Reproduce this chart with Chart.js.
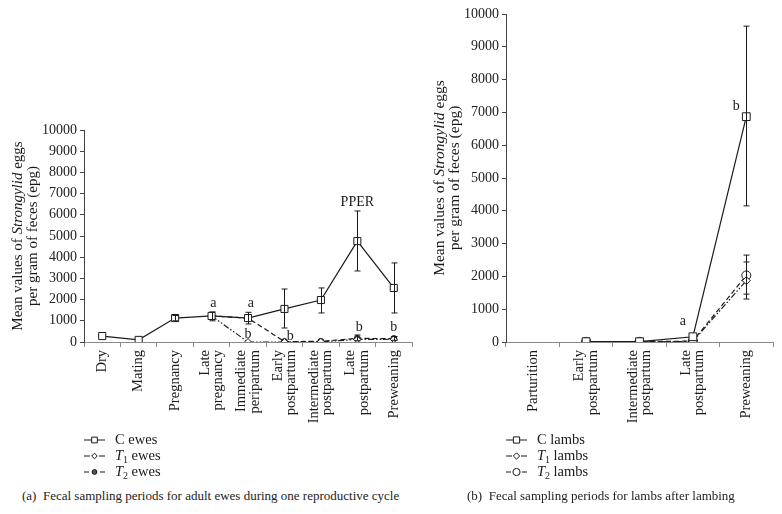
<!DOCTYPE html>
<html>
<head>
<meta charset="utf-8">
<script src="https://cdn.jsdelivr.net/npm/chart.js@4.4.1/dist/chart.umd.min.js"></script>
<style>
  body { margin: 0; background: #fff; width: 782px; height: 514px; position: relative; overflow: hidden; }
  canvas { position: absolute; }
  .cap { position: absolute; top: 488px; font: 13px "Liberation Serif", serif; color: #222; white-space: nowrap; }
</style>
</head>
<body>
<canvas id="ewes" width="420" height="375" style="left:0;top:110px"></canvas>
<canvas id="lambs" width="382" height="485" style="left:400px;top:0"></canvas>
<div class="cap" style="left:22px">(a)&nbsp; Fecal sampling periods for adult ewes during one reproductive cycle</div>
<div class="cap" style="left:467px">(b)&nbsp; Fecal sampling periods for lambs after lambing</div>

<script>
// ---- data: adult ewes (a) ----
const ewePeriods = [['Dry'], ['Mating'], ['Pregnancy'], ['Late', 'pregnancy'], ['Immediate', 'peripartum'],
  ['Early', 'postpartum'], ['Intermediate', 'postpartum'], ['Late', 'postpartum'], ['Preweaning']];
const cEwes = [280, 100, 1130, 1230, 1130, 1560, 1980, 4760, 2550];
const cEwesLow = [null, null, 1000, 1000, 850, 660, 1370, 3350, 1370];
const cEwesHigh = [null, null, 1250, 1420, 1400, 2500, 2550, 6180, 3730];
const t1Ewes = [null, null, null, 1230, 0, 0, 10, 120, 130];
const t2Ewes = [null, null, null, 1230, 1130, 20, 30, 170, 160];
const t2EwesLow = [null, null, null, null, null, null, null, 60, 80];
const t2EwesHigh = [null, null, null, null, null, null, null, 330, 260];
const eweNoteText = ['a', 'a', 'b', 'b', 'b', 'b', 'PPER'];
const eweNoteCat = [3.05, 4.08, 4.0, 5.16, 7.05, 8.0, 7.0];
const eweNoteVal = [1840, 1840, 380, 280, 700, 700, 6600];

// ---- data: lambs (b) ----
const lambPeriods = [['Parturition'], ['Early', 'postpartum'], ['Intermediate', 'postpartum'], ['Late', 'postpartum'], ['Preweaning']];
const cLambs = [null, 10, 10, 160, 6870];
const cLambsLow = [null, null, null, null, 4150];
const cLambsHigh = [null, null, null, null, 9630];
const t1Lambs = [null, 0, 0, 20, 1870];
const t1LambsLow = [null, null, null, null, 1310];
const t1LambsHigh = [null, null, null, null, 2440];
const t2Lambs = [null, 5, 5, 30, 2030];
const t2LambsLow = [null, null, null, null, 1460];
const t2LambsHigh = [null, null, null, null, 2650];
const lambNoteText = ['a', 'b'];
const lambNoteCat = [2.81, 3.81];
const lambNoteVal = [640, 7200];

const serif = '"Liberation Serif", "Times New Roman", serif';
const ink = '#1a1a1a';

// custom drawing: error bars, notes, rotated category labels, y title, legend
const extrasPlugin = {
  id: 'extras',
  afterDatasetsDraw(chart, args, opts) {
    const ctx = chart.ctx;
    const xs = chart.scales.x, ys = chart.scales.y;
    ctx.save();

    // error bars
    ctx.strokeStyle = ink;
    ctx.lineWidth = 1;
    opts.errors.forEach(e => {
      e.low.forEach((lo, i) => {
        if (lo == null) return;
        const px = Math.round(xs.getPixelForValue(i)) + 0.5;
        const y1 = ys.getPixelForValue(lo), y2 = ys.getPixelForValue(e.high[i]);
        ctx.beginPath();
        ctx.moveTo(px, y1); ctx.lineTo(px, y2);
        ctx.moveTo(px - 3, y1); ctx.lineTo(px + 3, y1);
        ctx.moveTo(px - 3, y2); ctx.lineTo(px + 3, y2);
        ctx.stroke();
      });
    });

    // letters
    ctx.fillStyle = ink;
    ctx.font = '14px ' + serif;
    ctx.textAlign = 'center';
    ctx.textBaseline = 'middle';
    opts.noteText.forEach((t, i) => {
      ctx.fillText(t, xs.getPixelForValue(opts.noteCat[i]), ys.getPixelForValue(opts.noteVal[i]));
    });

    // category labels, rotated
    ctx.font = '14.5px ' + serif;
    ctx.textAlign = 'right';
    opts.periods.forEach((lines, i) => {
      const px = xs.getPixelForValue(i);
      lines.forEach((line, j) => {
        ctx.save();
        ctx.translate(px + (j - (lines.length - 1) / 2) * 13.5, xs.top + 8);
        ctx.rotate(-Math.PI / 2);
        ctx.fillText(line, 0, 0);
        ctx.restore();
      });
    });

    // y title
    const midY = (chart.chartArea.top + chart.chartArea.bottom) / 2;
    const tf = opts.titleSize + 'px ' + serif;
    const parts = [['Mean values of ', ''], ['Strongylid', 'italic '], [' eggs', '']];
    ctx.save();
    ctx.translate(xs.left - 66, midY);
    ctx.rotate(-Math.PI / 2);
    ctx.textAlign = 'left';
    let total = 0;
    parts.forEach(p => { ctx.font = p[1] + tf; total += ctx.measureText(p[0]).width; });
    let cx = -total / 2;
    parts.forEach(p => {
      ctx.font = p[1] + tf;
      ctx.fillText(p[0], cx, 0);
      cx += ctx.measureText(p[0]).width;
    });
    ctx.restore();
    ctx.save();
    ctx.translate(xs.left - 51, midY);
    ctx.rotate(-Math.PI / 2);
    ctx.textAlign = 'center';
    ctx.font = tf;
    ctx.fillText('per gram of feces (epg)', 0, 0);
    ctx.restore();

    // legend
    chart.data.datasets.forEach((ds, i) => {
      const ly = chart.chartArea.bottom + 98 + i * 16;
      const lx = xs.left;
      ctx.save();
      ctx.strokeStyle = ink;
      ctx.lineWidth = 1;
      ctx.setLineDash(ds.borderDash || []);
      ctx.beginPath();
      ctx.moveTo(lx, ly); ctx.lineTo(lx + 21, ly);
      ctx.stroke();
      ctx.setLineDash([]);
      ctx.fillStyle = ds.pointBackgroundColor;
      Chart.helpers.drawPoint(ctx, { pointStyle: ds.pointStyle, radius: ds.pointRadius * 0.8, borderWidth: 1, rotation: 0 }, lx + 10.5, ly);
      ctx.restore();
      ctx.fillStyle = ink;
      ctx.textAlign = 'left';
      ctx.textBaseline = 'middle';
      let tx = lx + 31;
      if (ds.sub) {
        ctx.font = 'italic 14.5px ' + serif;
        ctx.fillText('T', tx, ly);
        tx += ctx.measureText('T').width;
        ctx.font = '10px ' + serif;
        ctx.fillText(ds.sub, tx, ly + 4);
        tx += ctx.measureText(ds.sub).width + 3.5;
        ctx.font = '14.5px ' + serif;
        ctx.fillText(ds.label, tx, ly);
      } else {
        ctx.font = '14.5px ' + serif;
        ctx.fillText('C ' + ds.label, tx, ly);
      }
    });
    ctx.restore();
  }
};

function makeChart(id, periods, sets, plug, axisWidth, padTop, padRight) {
  return new Chart(document.getElementById(id), {
    type: 'line',
    data: { labels: periods.map(p => p.join(' ')), datasets: sets },
    options: {
      responsive: false,
      animation: false,
      spanGaps: true,
      layout: { padding: { top: padTop, right: padRight, bottom: 45, left: 0 } },
      plugins: { legend: { display: false }, tooltip: { enabled: false }, extras: plug },
      scales: {
        x: {
          type: 'category',
          offset: true,
          grid: { drawOnChartArea: false, drawTicks: true, tickLength: 5, color: '#8a8a8a', offset: true },
          border: { color: '#8a8a8a' },
          ticks: { display: false },
          afterFit: s => { s.height = 98; }
        },
        y: {
          min: 0, max: 10000,
          ticks: { stepSize: 1000, font: { family: serif, size: 14 }, color: '#222', padding: 3, callback: v => String(v) },
          grid: { drawOnChartArea: false, tickLength: 4, color: '#444' },
          border: { color: '#444' },
          afterFit: s => { s.width = axisWidth; }
        }
      }
    },
    plugins: [extrasPlugin]
  });
}

function ds(label, sub, data, dash, style, radius, fill) {
  return {
    label: label, sub: sub, data: data,
    borderColor: ink, borderWidth: 1.2, borderDash: dash, tension: 0,
    pointStyle: style, pointRadius: radius, pointBorderColor: ink, pointBorderWidth: 1,
    pointBackgroundColor: fill
  };
}

makeChart('ewes', ewePeriods, [
  ds('ewes', null, cEwes, [], 'rect', 5, '#fff'),
  ds('ewes', '1', t1Ewes, [6, 2, 1.5, 2, 1.5, 2], 'rectRot', 3.5, '#fff'),
  ds('ewes', '2', t2Ewes, [5, 3], 'circle', 3, '#555')
], {
  periods: ewePeriods, titleSize: 15,
  errors: [{ low: cEwesLow, high: cEwesHigh }, { low: t2EwesLow, high: t2EwesHigh }],
  noteText: eweNoteText, noteCat: eweNoteCat, noteVal: eweNoteVal
}, 84, 20, 8);

makeChart('lambs', lambPeriods, [
  ds('lambs', null, cLambs, [], 'rect', 5.5, '#fff'),
  ds('lambs', '1', t1Lambs, [6, 2, 1.5, 2, 1.5, 2], 'rectRot', 4, '#fff'),
  ds('lambs', '2', t2Lambs, [5, 3], 'circle', 4.5, '#fff')
], {
  periods: lambPeriods, titleSize: 15.5,
  errors: [{ low: cLambsLow, high: cLambsHigh }, { low: t1LambsLow, high: t1LambsHigh }, { low: t2LambsLow, high: t2LambsHigh }],
  noteText: lambNoteText, noteCat: lambNoteCat, noteVal: lambNoteVal
}, 106, 14, 9);
</script>
</body>
</html>
